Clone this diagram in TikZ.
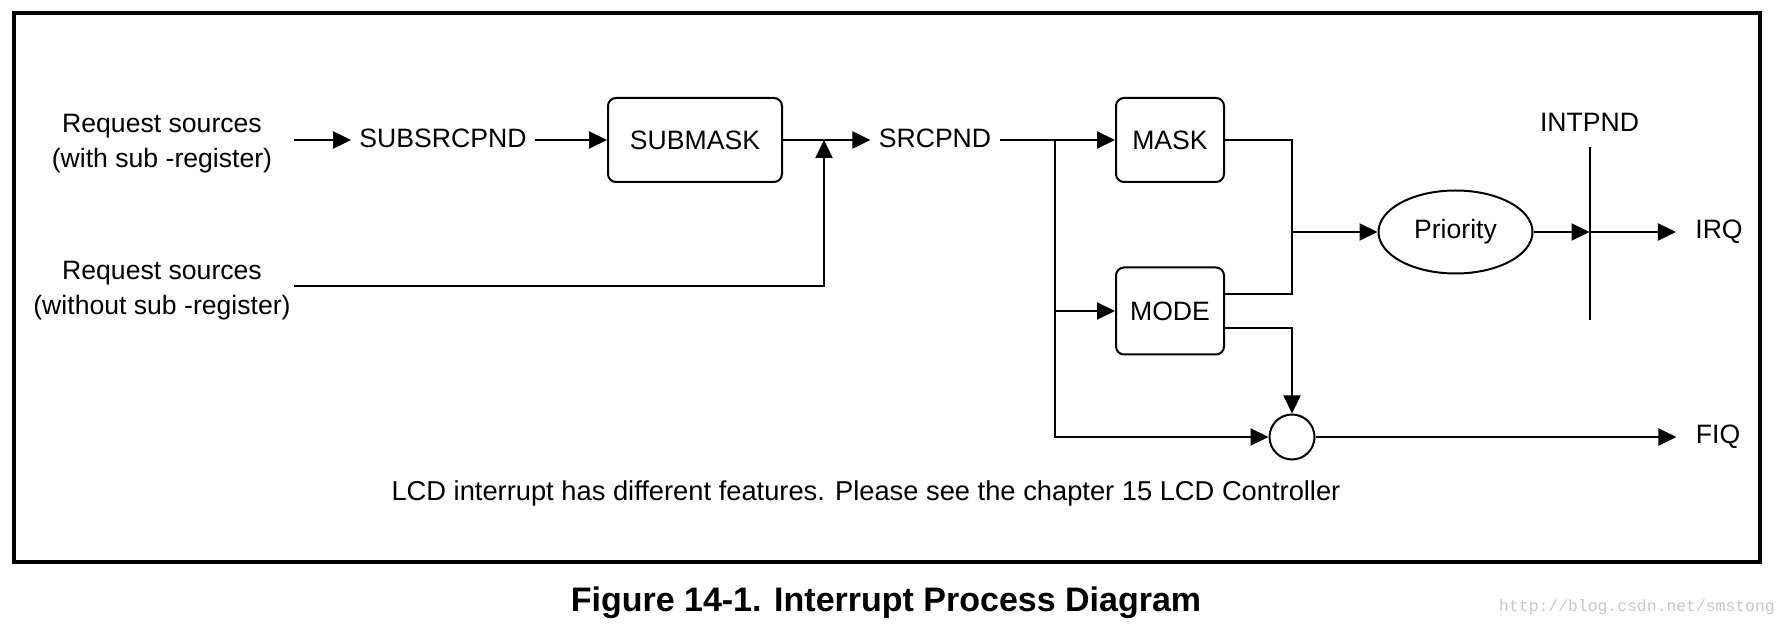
\documentclass[tikz,border=0pt]{standalone}
\usepackage{fontspec}
\setmainfont{Liberation Sans}
\newfontfamily\wmfont{Liberation Mono}
\usetikzlibrary{arrows.meta,shapes.geometric}
\tikzset{
  reg/.style={draw,line width=1pt,rounded corners=4pt,inner sep=0pt},
  txt/.style={inner sep=4pt,align=center},
  wire/.style={line width=1pt},
  >={Triangle[length=9pt,width=8.5pt]}
}
\begin{document}
\begin{tikzpicture}[x=0.5pt,y=-0.5pt]
\useasboundingbox (0,0) rectangle (1788,635);
\fontsize{13.3}{17.5}\selectfont
\draw[line width=1.6pt] (14,13) rectangle (1760,562);

\node[txt] (rsa) at (162,143.5){Request sources\\(with sub -register)};
\node[txt] (rsb) at (162,290.5){Request sources\\(without sub -register)};
\node[txt] (subsrc) at (443,138.5){SUBSRCPND};
\node[reg,minimum width=87pt,minimum height=42pt] (submask) at (695,140){SUBMASK};
\node[txt] (srcpnd) at (935,138.5){SRCPND};
\node[reg,minimum width=54pt,minimum height=42pt] (mask) at (1170,140){MASK};
\node[reg,minimum width=54pt,minimum height=43.5pt] (mode) at (1170,311){MODE};
\node[draw,line width=1pt,ellipse,minimum width=77pt,minimum height=41.5pt,inner sep=0pt] (prio) at (1455.5,232){Priority};
\node[draw,line width=1pt,circle,minimum size=22.5pt,inner sep=0pt] (fiqor) at (1292,437){};
\node[txt] (intpnd) at (1589.5,122){INTPND};
\coordinate (intop) at (1589.5,147);
\coordinate (intbot) at (1589.5,320);
\node[txt] (irq) at (1719,232){IRQ};
\node[txt] (fiq) at (1718,437){FIQ};
\node[txt,font=\fontsize{13.65}{17.5}\selectfont] (note) at (866,493){LCD interrupt has different features. Please see the chapter 15 LCD Controller};

\node[font=\bfseries\fontsize{17}{20}\selectfont] (cap) at (886,603){Figure 14-1. Interrupt Process Diagram};
\node[font=\wmfont\fontsize{8.2}{10}\selectfont,text=black!22] (wm) at (1637,607){http://blog.csdn.net/smstong};

\coordinate (tapa) at (294,140);
\coordinate (tapb) at (294,286);
\coordinate (join) at (824,140);
\coordinate (fork) at (1054.5,140);
\coordinate (merge) at (fiqor |- prio);
\coordinate (latch) at (intop |- prio);

\draw[wire,->] (tapa) -- (subsrc.west |- tapa);
\draw[wire,->] (subsrc.east |- tapa) -- (submask.west);
\draw[wire,->] (submask.east) -- (srcpnd.west |- submask);
\draw[wire,->] (tapb) -| (join);
\draw[wire,->] (srcpnd.east |- mask) -- (mask.west);
\draw[wire,->] (fork) |- (mode.west);
\draw[wire,->] (fork) |- (fiqor.west);
\draw[wire] (mask.east) -| (merge);
\draw[wire] ([yshift=8.5pt]mode.east) -| (merge);
\draw[wire,->] (merge) -- (prio.west);
\draw[wire,->] ([yshift=-8.5pt]mode.east) -| (fiqor.north);
\draw[wire,->] (prio.east) -- (latch);
\draw[wire,->,shorten >=5.5pt] (latch) -- (irq.west);
\draw[wire] (intop) -- (intbot);
\draw[wire,->,shorten >=5.5pt] (fiqor.east) -- (fiq.west);
\end{tikzpicture}
\end{document}
